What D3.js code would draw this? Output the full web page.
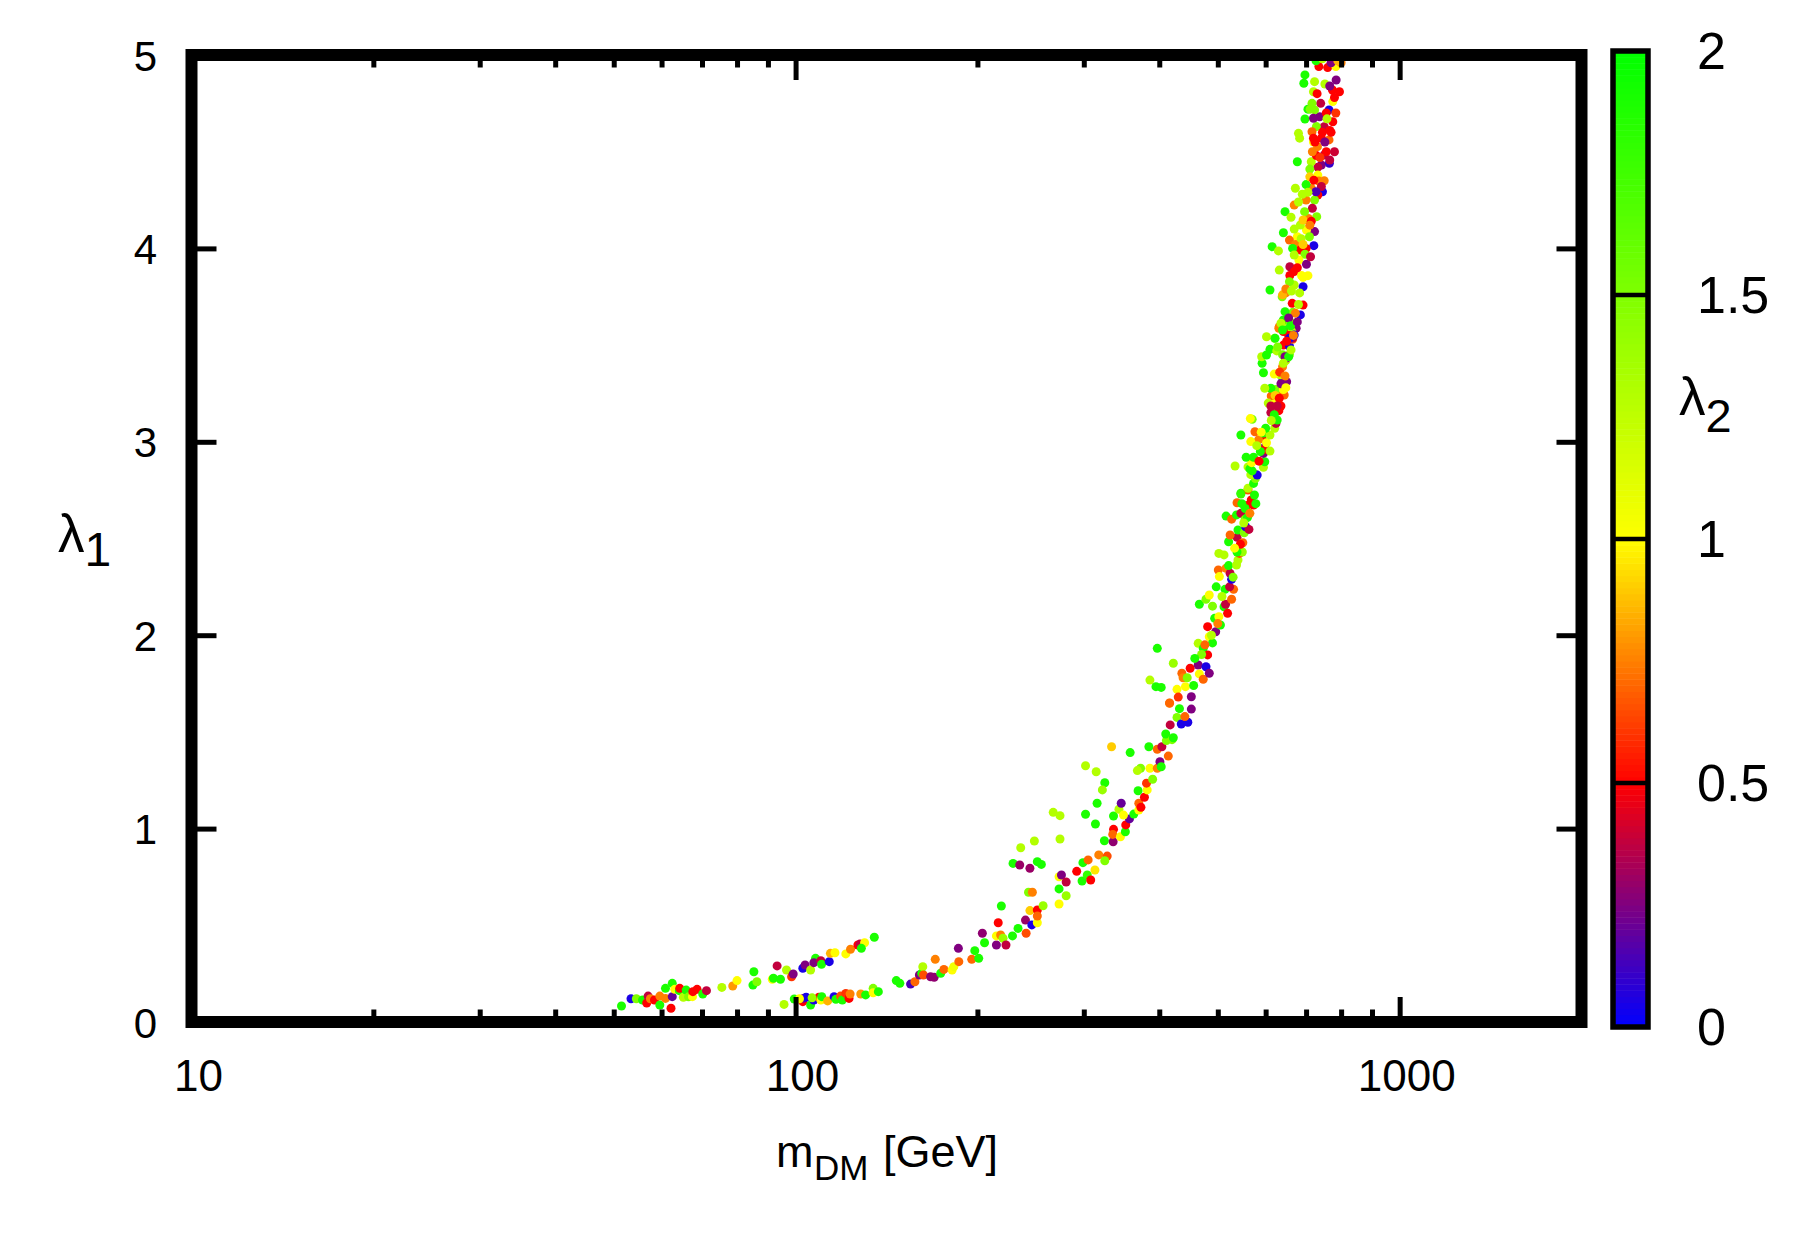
<!DOCTYPE html>
<meta charset="utf-8">
<head>
<title>lambda1 vs m_DM</title>
</head>
<style>
html, body {
  margin: 0;
  background: white;
  overflow: hidden;
}
text {
  font-family: "Liberation Sans", Arial, Helvetica, sans-serif;
  fill: black;
}
.tick line { stroke: black; stroke-width: 5; }
</style>
<body>
<script src="https://d3js.org/d3.v7.min.js"></script>
<script>

// axis ticks
var xMajor = [10, 100, 1000];
var xMinor = [20, 30, 40, 50, 60, 70, 80, 90, 200, 300, 400, 500, 600, 700, 800, 900];
var yMajor = [0, 1, 2, 3, 4, 5];
var cbMajor = [0, 0.5, 1, 1.5, 2];

// scan points: [m_DM (GeV), lambda1, lambda2]
// upper thin branch at low mass
var lowBranch = [
  [51.5,0.083,1.9],[53.4,0.12,0.05],[54.5,0.12,1.5],[55.8,0.114,1.9],[56.7,0.098,0.5],[57.0,0.134,0.38],
  [57.5,0.12,0.75],[58.4,0.114,0.5],[59.6,0.134,0.75],[59.6,0.088,1.9],[60.9,0.174,1.9],[60.9,0.122,0.75],
  [62.2,0.071,0.5],[62.5,0.2,1.9],[62.5,0.131,0.2],[63.1,0.169,1.0],[64.2,0.162,1.9],[64.3,0.174,0.5],
  [65.2,0.128,1.3],[65.9,0.165,1.9],[66.5,0.13,1.5],[67.5,0.131,1.0],[67.6,0.157,0.5],[68.7,0.169,0.5],
  [70.2,0.145,1.9],[71.2,0.162,0.38],[75.5,0.179,1.3],[78.7,0.186,0.8],[80.0,0.214,1.0],[85.0,0.191,1.9],
  [85.3,0.26,1.9],[86.3,0.208,1.5],[91.5,0.221,1.0],[91.9,0.226,1.9],[93.2,0.29,0.38],[94.4,0.221,1.9],
  [96.6,0.269,1.3],[98.5,0.234,0.6],[99.1,0.248,0.25],[102.8,0.278,0.05],[103.7,0.295,0.25],[105.9,0.269,1.3],
  [107.9,0.329,1.9],[107.2,0.307,0.25],[110.1,0.317,0.38],[110.4,0.298,1.9],[113.7,0.312,0.05],[114.2,0.355,0.85],
  [116.2,0.358,1.0],[121.1,0.352,1.0],[123.3,0.376,0.75],[126.8,0.398,0.5],[127.8,0.403,0.38],[130.1,0.41,1.0],
  [128.5,0.381,1.9],[135.0,0.438,1.9],[95.7,0.091,1.3]
];

// short lower branch around 100-140 GeV
var midBranch = [
  [99.5,0.119,1.9],[102.8,0.105,0.5],[103,0.122,0.25],[104.1,0.128,0.05],[105.9,0.088,1.9],[107.2,0.114,0.05],
  [109.3,0.128,0.5],[110.1,0.114,1.0],[110.5,0.131,1.9],[113,0.109,0.85],[115.8,0.131,0.05],[116.6,0.117,1.9],
  [118.7,0.134,0.65],[119.5,0.114,1.9],[121.1,0.148,0.6],[122.6,0.122,0.5],[123.1,0.145,0.75],[128.2,0.145,0.8],
  [130.6,0.14,1.9],[134.4,0.174,1.5],[134.4,0.151,1.0],[137.1,0.157,1.9],[106.5,0.125,1.4],[101.5,0.12,1.0]
];

// main branch, lower part
var mainLow = [
  [146.8,0.214,1.9],[148.8,0.2,1.9],[155,0.196,0.15],[157.6,0.208,0.7],[160.3,0.243,0.25],[161.8,0.252,1.9],
  [162.4,0.286,1.3],[162.8,0.243,0.65],[167.3,0.234,0.28],[169.6,0.231,0.28],[170.3,0.324,0.75],[173.9,0.252,1.9],
  [176,0.272,0.7],[181.6,0.269,1.0],[182.8,0.286,1.05],[186,0.381,0.25],[186.3,0.312,0.7],[195.7,0.324,0.7],
  [198,0.369,1.9],[201,0.329,1.9],[203.8,0.459,0.28],[205.5,0.41,1.9],[215,0.398,0.25],[216.5,0.513,0.5],
  [215,0.445,1.0],[218.5,0.45,0.75],[220.5,0.433,1.4],[219.1,0.6,1.9],[223,0.398,0.38],[228.6,0.445,1.9],
  [233.5,0.484,1.9],[240.8,0.459,0.65],[240.2,0.527,0.3],[246.1,0.502,0.05],[251.3,0.513,1.0],[244.3,0.576,0.9],
  [243,0.671,1.5],[246.6,0.671,0.75],[251.3,0.579,0.5],[251.3,0.548,0.7],[256.9,0.601,1.4],
  [229.1,0.82,1.9],[235,0.812,0.3],[244.3,0.795,0.3],[235.9,0.901,1.3],[248.5,0.936,1.3],[251.3,0.829,1.9],
  [255.2,0.815,1.9],[267,1.084,1.3],[274,1.067,1.3],[274,0.946,1.3],[273,0.751,1.0],[275.5,0.76,0.25],
  [280.5,0.724,0.38],[273,0.688,1.9],[280.5,0.653,1.4],[273,0.61,1.0],[292,0.779,0.5],[299,0.824,1.9],
  [305,0.838,0.7],[298,0.729,1.9],[304,0.76,1.8],[308,0.734,0.5],[313,0.786,0.95],[302,1.325,1.3],
  [314.5,1.294,1.3],[302,1.074,1.9],[315.6,1.131,1.9],[313.6,1.024,1.9],[325,1.237,1.9],[322,1.2,1.4],
  [317.6,0.864,0.75],[328,0.858,0.65],[325,0.834,1.5],[324.5,0.937,1.9],[335.5,0.932,0.28],[336,0.996,0.5],
  [335,0.97,0.7],[336,1.065,1.9],[343,1.1,1.3],[346,1.131,0.2],[345,0.958,1.0],[351.5,0.984,1.9],
  [352,1.019,0.5],[357,1.05,0.2],[349,1.07,1.0],[333.5,1.423,0.9],[358,1.393,1.9],[363,1.075,1.9],
  [370,1.096,1.0],[370,1.131,0.7],[373,1.11,0.5],[369,1.196,1.9],[372.5,1.312,1.5],[368,1.30,1.3],
  [378,1.162,0.5],[382,1.2,1.0],[381,1.235,0.6],[384.5,1.423,1.9],[386,1.312,1.0],[390,1.255,1.5],
  [397,1.312,0.75],[401,1.346,0.25],[403,1.32,1.9],[397,1.41,0.7],[404,1.423,0.38],[414,1.375,0.7],
  [411,1.455,1.5],[410,1.489,1.9],[420,1.46,1.5],[417,1.536,0.38],[422,1.47,1.9],[428,1.575,1.5],
  [435,1.541,0.05],[446,1.55,0.05],[441,1.579,0.7],[452,1.618,0.25],[416,1.648,0.75],[432,1.62,1.9]
];

// main branch, middle part
var mainMid = [
  [397,1.932,1.9],[422,1.855,1.4],[386,1.768,1.3],[395,1.734,1.9],[403,1.73,1.9],[416,1.65,0.7],
  [436,1.803,0.7],[438,1.78,0.75],[442,1.734,1.0],[450,1.829,0.5],[452,1.682,0.25],[464,1.846,0.25],
  [466,1.80,1.0],[473,1.772,0.7],[478,1.837,0.05],[484,1.803,0.25],[464,1.958,1.3],[473,1.932,1.9],
  [481,1.898,0.5],[484,1.992,1.0],[490,1.96,1.9],[496,2.018,0.25],[481,2.044,0.5],[466,2.16,1.9],
  [478,2.186,1.5],[484,2.208,1.0],[490,2.15,1.5],[494,2.087,1.9],[502,2.096,1.0],[505,2.053,1.9],
  [512,2.147,1.9],[519,2.113,0.5],[515,2.16,0.38],[527,2.186,0.7],[514,2.237,1.9],[531,2.237,0.7],
  [523,2.25,0.38],[501,2.337,0.7],[502,2.423,1.3],[512,2.415,1.3],[503,2.303,1.0],[516,2.346,0.75],
  [524,2.32,0.38],[527,2.289,0.05],[521,2.36,1.9],[537,2.363,1.3],[540,2.389,1.3],[543,2.423,0.65],
  [549,2.43,1.4],[538,2.43,1.9],[521,2.483,1.9],[538,2.506,0.38],[550,2.478,0.7],[524,2.518,0.7],
  [540,2.544,1.9],[553,2.53,1.5],[556,2.561,0.05],[563,2.547,0.38],[516,2.616,1.9],[527,2.60,0.7],
  [537,2.622,1.9],[546,2.63,0.38],[555,2.60,1.5],[560,2.61,1.9],[538,2.685,0.7],[546,2.734,1.9],
  [561,2.751,0.65],[568,2.699,0.5],[559,2.67,0.5],[555,2.655,1.9],[573,2.673,0.5],[575,2.725,1.9],
  [578,2.68,1.9],[561,2.76,1.3],[573,2.785,1.9],[577,2.81,1.5],[546,2.73,1.8],[567,2.83,1.3],
  [577,2.832,1.3],[595,2.868,1.3],[581,2.828,0.05],[570,2.85,1.9],[561,2.87,1.3],[565,2.86,1.9],
  [569,2.892,1.0],[557,2.92,1.9],[534,2.875,1.3],[573,2.92,1.9],[598,2.897,1.9],[595,2.94,0.25],
  [598,2.972,0.25],[597,2.96,0.5],[592,3.018,0.5],[584,3.01,0.75],[567,3.001,1.0],[576,3.052,0.7],
  [595,3.045,1.9],[602,2.995,1.0],[610,2.952,1.3],[546,3.035,1.9],[570,3.116,1.5],[566,3.12,1.0],
  [610,3.035,1.3],[621,3.07,1.3],[624,3.095,0.38],[627,3.113,1.9],[631,3.161,0.5],[612,3.151,0.38],
  [636,3.185,0.5],[613,3.237,0.7],[606,3.2,1.3],[620,3.195,1.0],[631,3.237,0.75],[624,3.271,1.5],
  [612,3.277,1.9],[644,3.242,0.7],[642,3.27,1.0],[640,3.314,0.05],[650,3.311,0.25],[635,3.345,1.3],
  [620,3.35,1.0],[595,3.357,1.9],[598,3.277,1.3],[592,3.406,1.9],[591,3.44,1.3],[602,3.449,1.9],
  [610,3.478,1.9],[602,3.543,1.3],[621,3.535,1.3],[626,3.47,1.3],[640,3.388,0.75],[648,3.42,1.3],
  [640,3.45,1.5],[642,3.5,0.5],[657,3.495,0.05],[665,3.53,0.75],[657,3.45,1.5],[648,3.43,0.25],
  [632,3.595,0.7],[646,3.58,1.9],[661,3.609,0.7],[674,3.587,0.25],[640,3.62,1.3],
  [470,1.9,1.5],[476,1.95,0.7],[488,2.0,1.3],[458,1.88,1.9],[445,1.78,1.5],[428,1.72,1.0],
  [430,1.68,0.6],[456,1.74,1.9],[500,2.06,0.75],[508,2.2,1.3],[497,2.25,1.9],[530,2.3,1.5],
  [545,2.47,0.5],[533,2.45,1.0],[552,2.58,1.3],[565,2.63,0.75],[548,2.68,1.9],[585,2.9,0.5],
  [588,2.95,1.9],[580,2.98,1.3]
];

// main branch, upper part
var mainHigh = [
  [610,3.785,1.9],[639,3.75,1.5],[632,3.888,1.3],[615,4.009,1.9],[630,3.987,1.3],[642,4.081,1.9],
  [646,4.19,1.9],[661,4.161,1.3],[672,4.311,1.3],[677,4.448,1.9],[680,4.595,1.3],[683,4.57,1.3],
  [697,4.669,1.9],[697,4.897,1.9],[694,4.854,1.9],[720,4.81,1.3],[723,4.862,1.3],[735,4.94,0.5],
  [760,4.935,0.5],[784,4.94,1.0],[800,4.96,0.75],[785,4.871,0.25],[774,4.819,0.5],[795,4.81,0.5],
  [775,4.759,1.0],[764,4.716,0.05],[740,4.75,0.38],[737,4.681,0.25],[723,4.716,1.5],[775,4.655,0.5],
  [750,4.629,0.38],[728,4.63,1.5],[716,4.603,0.7],[764,4.561,0.7],[742,4.57,0.5],[731,4.526,0.75],
  [750,4.483,0.38],[742,4.431,0.25],[732,4.42,0.38],[714,4.448,1.3],[710,4.41,1.5],[765,4.44,0.1],
  [732,4.379,1.0],[735,4.348,0.75],[745,4.293,0.05],[732,4.276,0.5],[714,4.311,0.75],[700,4.33,1.9],
  [723,4.25,1.5],[700,4.25,0.75],[690,4.28,1.3],[669,4.224,0.75],[717,4.207,0.38],[729,4.164,1.5],
  [706,4.155,0.75],[723,4.087,0.25],[701,4.095,1.0],[685,4.121,1.3],[677,4.06,1.0],[657,4.043,0.7],
  [672,4.02,0.75],[687,4.05,1.3],[721,4.014,0.05],[700,4.0,0.5],[685,3.992,0.5],[697,3.97,1.5],
  [681,3.94,1.0],[701,3.918,0.25],[658,3.905,0.38],[669,3.88,0.5],[688,3.86,1.0],[705,3.859,1.0],
  [658,3.86,0.5],[669,3.811,1.3],[692,3.802,0.05],[683,3.77,1.3],[648,3.77,0.75],[640,3.76,0.85],
  [692,3.707,0.5],[685,3.656,0.05],[666,3.67,1.5],[642,3.63,1.9],[631,3.587,0.75],[659,3.62,1.5],
  [663,3.57,1.3],[655,3.55,0.5],[622,3.535,1.9],[665,3.535,0.38],
  [727,4.97,1.9],[745,4.98,1.3],[770,4.96,0.25],[790,4.97,0.85],[752,4.85,1.3],[766,4.84,0.25],
  [780,4.78,0.5],[730,4.80,0.5],[716,4.75,1.5],[705,4.72,1.9],[756,4.70,0.5],[784,4.70,0.6],
  [745,4.60,0.5],[770,4.60,0.5],[752,4.55,0.25],[720,4.55,1.0],[756,4.50,0.5],[780,4.50,0.4],
  [728,4.48,0.5]
];

// densest part of the upper band
var mainCore = [
  [711,4.72,1.5],[720,4.673,0.25],[758,4.67,1.3],[766,4.61,0.5],[720,4.57,0.5],[724,4.55,0.5],
  [717,4.5,0.75],[766,4.457,0.38],[738,4.47,0.6],[710,4.37,0.9],[721,4.353,0.5],[750,4.35,0.75],
  [742,4.32,0.38],[727,4.293,0.15],[705,4.29,1.3],[680,4.24,1.3],[696,4.19,1.5],[692,4.147,0.9],
  [714,4.14,0.5],[710,4.12,0.75],[669,4.1,1.3],[709,4.06,1.5],[665,4.0,1.9],[692,4.02,0.9],
  [669,3.966,1.3],[712,3.957,0.38],[677,3.9,0.5],[692,3.85,1.0],[657,3.828,1.5],[648,3.79,0.75],
  [662,3.78,1.3],[664,3.716,0.5],[680,3.71,1.3],[646,3.673,1.9],[672,3.665,0.75],[655,3.64,0.25],
  [636,3.613,1.3],[660,3.6,1.9],[669,3.552,0.05],[677,3.62,0.25],[642,3.57,0.5],
  [640,3.578,1.9],[657,3.535,0.05],[650,3.52,0.5],[667,3.55,0.75],[628,3.49,1.5],[646,3.44,0.25],
  [655,3.44,1.9],[661,3.475,1.3],[642,3.406,1.3],[633,3.36,0.6],[646,3.34,0.75],[636,3.3,0.25],
  [648,3.28,1.0],[622,3.24,0.9],[632,3.225,0.5],[627,3.185,0.38],[612,3.185,0.38],[620,3.14,1.9],
  [613,3.11,1.3],[600,3.07,1.9],[590,3.05,1.0]
];

var points = lowBranch.concat(midBranch, mainLow, mainMid, mainHigh, mainCore);

var width = 1804, height = 1246;
var plotLeft = 191.5, plotRight = 1581.5, plotTop = 55, plotBottom = 1022;

var svg = d3.select("body").append("svg")
    .attr("width", width)
    .attr("height", height);

var x = d3.scaleLog().domain([10, 2000]).range([plotLeft, plotRight]);
var y = d3.scaleLinear().domain([0, 5]).range([plotBottom, plotTop]);
var cb = d3.scaleLinear().domain([0, 2]).range([1027, 51]);
var color = d3.scaleLinear()
    .domain([0, 0.5, 1, 2])
    .range(["#0000ff", "#ff0000", "#ffff00", "#00ff00"]);

svg.append("clipPath").attr("id", "plotclip")
  .append("rect")
    .attr("x", plotLeft).attr("y", plotTop)
    .attr("width", plotRight - plotLeft).attr("height", plotBottom - plotTop);

// points
svg.append("g")
    .attr("clip-path", "url(#plotclip)")
  .selectAll("circle")
  .data(points)
  .enter().append("circle")
    .attr("cx", function (d) { return x(d[0]); })
    .attr("cy", function (d) { return y(d[1]); })
    .attr("r", 4.5)
    .attr("fill", function (d) { return color(d[2]); });

// ticks, all pointing inward
function cleanAxis(g) {
  g.select(".domain").remove();
  g.selectAll(".tick line").attr("stroke", "black").attr("stroke-width", 5);
}

svg.append("g")
    .attr("transform", "translate(0," + plotBottom + ")")
    .call(d3.axisBottom(x).tickValues(xMajor).tickSize(-25).tickPadding(38).tickFormat(d3.format("d")))
    .call(cleanAxis)
    .selectAll("text")
      .attr("font-size", 44)
      .attr("font-family", "Liberation Sans, Arial, sans-serif")
      .attr("dx", 6.5);

svg.append("g")
    .attr("transform", "translate(0," + plotBottom + ")")
    .call(d3.axisBottom(x).tickValues(xMinor).tickSize(-12.5).tickFormat(""))
    .call(cleanAxis);

svg.append("g")
    .attr("transform", "translate(0," + plotTop + ")")
    .call(d3.axisTop(x).tickValues(xMajor).tickSize(-25).tickFormat(""))
    .call(cleanAxis);

svg.append("g")
    .attr("transform", "translate(0," + plotTop + ")")
    .call(d3.axisTop(x).tickValues(xMinor).tickSize(-12.5).tickFormat(""))
    .call(cleanAxis);

svg.append("g")
    .attr("transform", "translate(" + plotLeft + ",0)")
    .call(d3.axisLeft(y).tickValues(yMajor).tickSize(-25).tickPadding(34.5).tickFormat(d3.format("d")))
    .call(cleanAxis)
    .selectAll("text")
      .attr("font-size", 42)
      .attr("font-family", "Liberation Sans, Arial, sans-serif")
      .attr("dy", "0.36em");

svg.append("g")
    .attr("transform", "translate(" + plotRight + ",0)")
    .call(d3.axisRight(y).tickValues(yMajor).tickSize(-25).tickFormat(""))
    .call(cleanAxis);

// frame
svg.append("rect")
    .attr("x", plotLeft).attr("y", plotTop)
    .attr("width", plotRight - plotLeft).attr("height", plotBottom - plotTop)
    .attr("fill", "none")
    .attr("stroke", "black")
    .attr("stroke-width", 12);

// colour box
var cbLeft = 1613, cbRight = 1648;
var nBands = 160;
svg.append("g").selectAll("rect")
  .data(d3.range(nBands))
  .enter().append("rect")
    .attr("x", cbLeft)
    .attr("width", cbRight - cbLeft)
    .attr("y", function (i) { return cb(2 * (i + 1) / nBands); })
    .attr("height", function (i) { return cb(2 * i / nBands) - cb(2 * (i + 1) / nBands) + 0.5; })
    .attr("fill", function (i) { return color(2 * (i + 0.5) / nBands); });

svg.append("g").selectAll("line")
  .data(cbMajor.slice(1, -1))
  .enter().append("line")
    .attr("x1", cbLeft).attr("x2", cbRight)
    .attr("y1", function (d) { return cb(d); })
    .attr("y2", function (d) { return cb(d); })
    .attr("stroke", "black")
    .attr("stroke-width", 4.7);

svg.append("rect")
    .attr("x", cbLeft).attr("y", cb(2))
    .attr("width", cbRight - cbLeft).attr("height", cb(0) - cb(2))
    .attr("fill", "none")
    .attr("stroke", "black")
    .attr("stroke-width", 5.5);

svg.append("g")
    .attr("transform", "translate(" + cbRight + ",0)")
    .call(d3.axisRight(cb).tickValues(cbMajor).tickSize(0).tickPadding(49).tickFormat(function (d) { return String(d); }))
    .call(function (g) { g.select(".domain").remove(); })
    .selectAll("text")
      .attr("font-size", 52)
      .attr("font-family", "Liberation Sans, Arial, sans-serif")
      .attr("dy", "0.33em");

// axis titles
var ylab = svg.append("text")
    .attr("x", 58).attr("y", 552)
    .attr("font-size", 53);
ylab.append("tspan").text("λ");
ylab.append("tspan").attr("font-size", 48).attr("dy", 14).text("1");

var cblab = svg.append("text")
    .attr("x", 1679).attr("y", 415)
    .attr("font-size", 53);
cblab.append("tspan").text("λ");
cblab.append("tspan").attr("font-size", 47).attr("dy", 17).text("2");

var xlab = svg.append("text")
    .attr("x", 776).attr("y", 1167)
    .attr("font-size", 45);
xlab.append("tspan").text("m");
xlab.append("tspan").attr("x", 814).attr("font-size", 35).attr("dy", 13).text("DM");
xlab.append("tspan").attr("x", 883).attr("dy", -13).text("[GeV]");

</script>
</body>
